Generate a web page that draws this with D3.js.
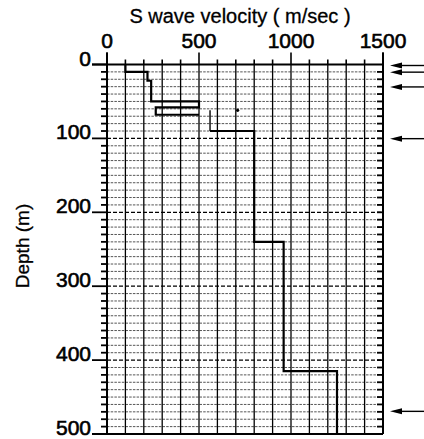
<!DOCTYPE html>
<html>
<head>
<meta charset="utf-8">
<script src="https://cdn.jsdelivr.net/npm/d3@7"></script>
<style>
  html, body { margin: 0; padding: 0; background: #fff; }
  svg text { font-family: "Liberation Sans", Arial, sans-serif; fill: #000; }
</style>
</head>
<body>
<div id="chart"></div>
<script>
// S wave velocity profile, [velocity m/sec, depth m] corners
var profileUpper = [[100, 0], [100, 10], [220, 10], [220, 22], [240, 22], [240, 50],
                    [500, 50], [500, 58], [265, 58], [265, 68], [500, 68]];
var profileLower = [[560, 90], [800, 90], [800, 240], [960, 240], [960, 415],
                    [1250, 415], [1250, 500]];
var connector = [[560, 62], [560, 90]];
var markPoints = [[710, 62]];
var arrowDepths = [0, 9, 29, 99, 468];
var velTicks = [0, 500, 1000, 1500];
var depthTicks = [0, 100, 200, 300, 400, 500];

var width = 424, height = 439;
var svg = d3.select("#chart").append("svg")
    .attr("width", width).attr("height", height);

var x = d3.scaleLinear().domain([0, 1500]).range([107, 383]);
var y = d3.scaleLinear().domain([0, 500]).range([64.5, 434]);

// horizontal dotted grid every 10 m
var minorDepths = d3.range(10, 500, 10);
svg.append("g").selectAll("line")
    .data(minorDepths)
    .enter().append("line")
    .attr("x1", x(0)).attr("x2", x(1500))
    .attr("y1", function(d) { return y(d); })
    .attr("y2", function(d) { return y(d); })
    .attr("stroke", function(d) { return d % 100 == 0 ? "#000" : "#555"; })
    .attr("stroke-width", function(d) { return d % 100 == 0 ? 1.3 : 1; })
    .attr("stroke-dasharray", function(d) { return d % 100 == 0 ? "4,2" : "2.5,1.2"; });

// vertical grid every 100 m/sec
svg.append("g").selectAll("line")
    .data(d3.range(100, 1500, 100))
    .enter().append("line")
    .attr("x1", function(d) { return x(d); })
    .attr("x2", function(d) { return x(d); })
    .attr("y1", y(0)).attr("y2", y(500))
    .attr("stroke", "#000").attr("stroke-width", 1.3);

// top ticks
svg.append("g").selectAll("line")
    .data(d3.range(0, 1501, 100))
    .enter().append("line")
    .attr("x1", function(d) { return x(d); })
    .attr("x2", function(d) { return x(d); })
    .attr("y1", y(0))
    .attr("y2", function(d) { return d % 500 == 0 ? y(0) - 12 : y(0) - 5; })
    .attr("stroke", "#000").attr("stroke-width", 1.6);

// left / right ticks every 10 m
svg.append("g").selectAll("line")
    .data(d3.range(0, 501, 10))
    .enter().append("line")
    .attr("x1", function(d) { return d % 100 == 0 ? x(0) - 15 : x(0) - 6; })
    .attr("x2", x(0))
    .attr("y1", function(d) { return y(d); })
    .attr("y2", function(d) { return y(d); })
    .attr("stroke", "#000").attr("stroke-width", 1.8);
svg.append("g").selectAll("line")
    .data(d3.range(10, 500, 10))
    .enter().append("line")
    .attr("x1", x(1500) - 6).attr("x2", x(1500))
    .attr("y1", function(d) { return y(d); })
    .attr("y2", function(d) { return y(d); })
    .attr("stroke", "#000").attr("stroke-width", 1.8);

// frame
svg.append("line").attr("x1", x(0) - 15).attr("x2", x(1500))
    .attr("y1", y(0)).attr("y2", y(0)).attr("stroke", "#000").attr("stroke-width", 2);
svg.append("line").attr("x1", x(0) - 15).attr("x2", x(1500))
    .attr("y1", y(500)).attr("y2", y(500)).attr("stroke", "#000").attr("stroke-width", 2);
svg.append("line").attr("x1", x(0)).attr("x2", x(0))
    .attr("y1", y(0) - 12).attr("y2", y(500)).attr("stroke", "#000").attr("stroke-width", 2);
svg.append("line").attr("x1", x(1500)).attr("x2", x(1500))
    .attr("y1", y(0) - 12).attr("y2", y(500)).attr("stroke", "#000").attr("stroke-width", 2);

// profile
var line = d3.line().x(function(d) { return x(d[0]); }).y(function(d) { return y(d[1]); });
svg.append("path").datum(profileUpper).attr("d", line)
    .attr("fill", "none").attr("stroke", "#000").attr("stroke-width", 2.2);
svg.append("path").datum(profileLower).attr("d", line)
    .attr("fill", "none").attr("stroke", "#000").attr("stroke-width", 2.2);
svg.append("path").datum(connector).attr("d", line)
    .attr("fill", "none").attr("stroke", "#000").attr("stroke-width", 1.4);
svg.selectAll(".mk").data(markPoints).enter().append("circle")
    .attr("cx", function(d) { return x(d[0]); })
    .attr("cy", function(d) { return y(d[1]); })
    .attr("r", 1.6).attr("fill", "#000");

// arrows on right
var arrows = svg.append("g").selectAll("g").data(arrowDepths).enter().append("g");
arrows.append("line")
    .attr("x1", 396).attr("x2", 424)
    .attr("y1", function(d) { return y(d) + 1; })
    .attr("y2", function(d) { return y(d) + 1; })
    .attr("stroke", "#000").attr("stroke-width", 1.4);
arrows.append("path")
    .attr("d", function(d) {
        var yy = y(d) + 1;
        return "M390," + yy + "L402," + (yy - 3) + "L402," + (yy + 3) + "Z";
    })
    .attr("fill", "#000");

// labels
svg.append("text").attr("x", 240).attr("y", 23)
    .attr("text-anchor", "middle").attr("font-size", 20)
    .attr("stroke", "#000").attr("stroke-width", 0.3)
    .text("S wave velocity ( m/sec )");
svg.selectAll(".vt").data(velTicks).enter().append("text")
    .attr("x", function(d) { return x(d); })
    .attr("y", 48)
    .attr("text-anchor", "middle").attr("font-size", 21)
    .attr("stroke", "#000").attr("stroke-width", 0.6)
    .text(function(d) { return d; });
svg.selectAll(".dt").data(depthTicks).enter().append("text")
    .attr("x", 91)
    .attr("y", function(d) { return y(d) + 1; })
    .attr("text-anchor", "end").attr("font-size", 21)
    .attr("stroke", "#000").attr("stroke-width", 0.6)
    .text(function(d) { return d; });
svg.append("text")
    .attr("transform", "translate(29,246) rotate(-90)")
    .attr("text-anchor", "middle").attr("font-size", 19)
    .attr("stroke", "#000").attr("stroke-width", 0.3)
    .text("Depth (m)");
</script>
</body>
</html>
